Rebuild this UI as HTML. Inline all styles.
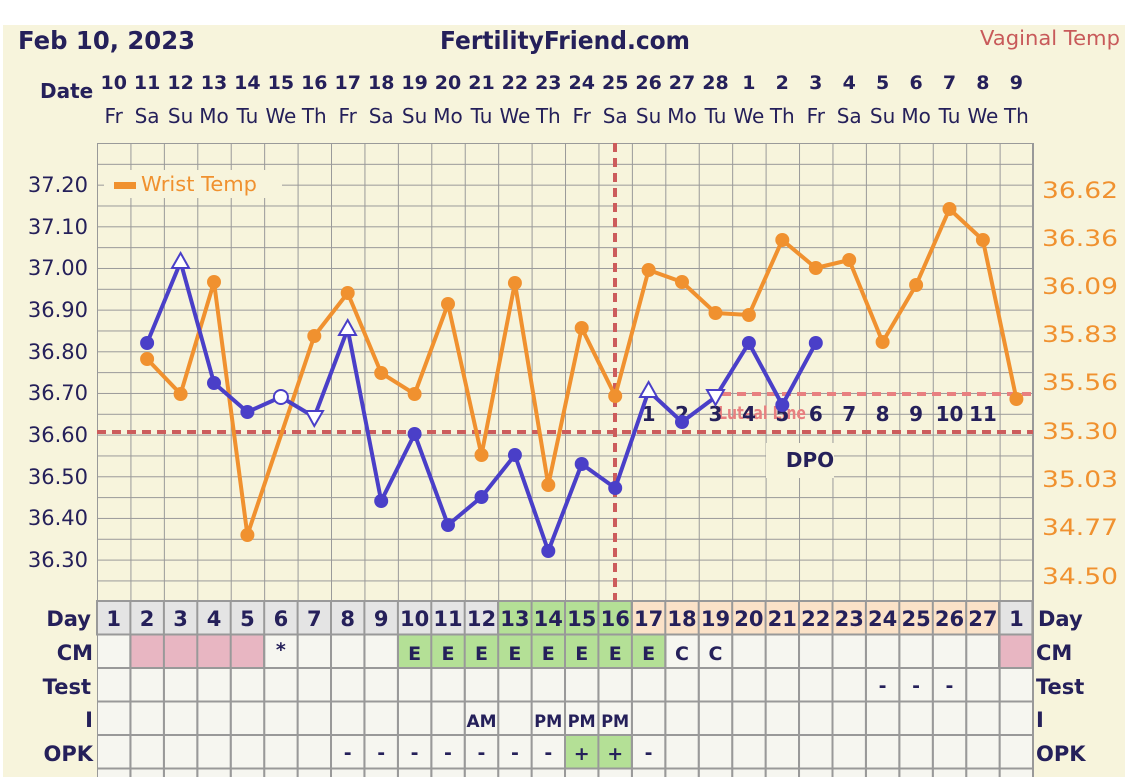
<!DOCTYPE html>
<html><head><meta charset="utf-8"><style>
html,body{margin:0;padding:0;background:#fff;}
svg{display:block;font-family:"DejaVu Sans","Liberation Sans",sans-serif;}
</style></head><body>
<svg width="1125" height="777" viewBox="0 0 1125 777" xmlns="http://www.w3.org/2000/svg">
<defs>
<pattern id="g" x="97" y="143" width="33.43" height="20.83" patternUnits="userSpaceOnUse">
<path d="M0 0V20.83M0 0H33.43" stroke="#999" stroke-width="2" fill="none"/>
</pattern>
<pattern id="t" x="97" y="601" width="33.43" height="33.5" patternUnits="userSpaceOnUse">
<rect width="33.43" height="33.5" fill="#f6f6f0"/>
<path d="M0 0V33.5M0 0H33.43" stroke="#999" stroke-width="2" fill="none"/>
</pattern>
</defs>
<rect x="3" y="25" width="1122" height="752" fill="#f7f4dc"/>
<text x="18" y="49" font-size="25" font-weight="bold" fill="#25205a" textLength="177" lengthAdjust="spacingAndGlyphs">Feb 10, 2023</text>
<text x="440" y="49" font-size="25" font-weight="bold" fill="#25205a" textLength="250" lengthAdjust="spacingAndGlyphs">FertilityFriend.com</text>
<text x="980" y="45" font-size="20" fill="#c85a5a" textLength="140" lengthAdjust="spacingAndGlyphs">Vaginal Temp</text>
<text x="40" y="98" font-size="20" font-weight="bold" fill="#25205a">Date</text>
<g font-size="19" font-weight="bold" fill="#25205a" text-anchor="middle">
<text x="113.7" y="89">10</text><text x="147.1" y="89">11</text><text x="180.6" y="89">12</text><text x="214" y="89">13</text><text x="247.4" y="89">14</text><text x="280.9" y="89">15</text><text x="314.3" y="89">16</text><text x="347.7" y="89">17</text><text x="381.2" y="89">18</text><text x="414.6" y="89">19</text><text x="448" y="89">20</text><text x="481.5" y="89">21</text><text x="514.9" y="89">22</text><text x="548.3" y="89">23</text><text x="581.7" y="89">24</text><text x="615.2" y="89">25</text><text x="648.6" y="89">26</text><text x="682" y="89">27</text><text x="715.5" y="89">28</text><text x="748.9" y="89">1</text><text x="782.3" y="89">2</text><text x="815.8" y="89">3</text><text x="849.2" y="89">4</text><text x="882.6" y="89">5</text><text x="916.1" y="89">6</text><text x="949.5" y="89">7</text><text x="982.9" y="89">8</text><text x="1016.4" y="89">9</text>
</g>
<g font-size="20" fill="#25205a" text-anchor="middle">
<text x="113.7" y="123">Fr</text><text x="147.1" y="123">Sa</text><text x="180.6" y="123">Su</text><text x="214" y="123">Mo</text><text x="247.4" y="123">Tu</text><text x="280.9" y="123">We</text><text x="314.3" y="123">Th</text><text x="347.7" y="123">Fr</text><text x="381.2" y="123">Sa</text><text x="414.6" y="123">Su</text><text x="448" y="123">Mo</text><text x="481.5" y="123">Tu</text><text x="514.9" y="123">We</text><text x="548.3" y="123">Th</text><text x="581.7" y="123">Fr</text><text x="615.2" y="123">Sa</text><text x="648.6" y="123">Su</text><text x="682" y="123">Mo</text><text x="715.5" y="123">Tu</text><text x="748.9" y="123">We</text><text x="782.3" y="123">Th</text><text x="815.8" y="123">Fr</text><text x="849.2" y="123">Sa</text><text x="882.6" y="123">Su</text><text x="916.1" y="123">Mo</text><text x="949.5" y="123">Tu</text><text x="982.9" y="123">We</text><text x="1016.4" y="123">Th</text>
</g>
<rect x="97" y="143" width="936" height="458" fill="url(#g)"/>
<line x1="1033" y1="143" x2="1033" y2="601" stroke="#999" stroke-width="2"/>
<g font-size="21" fill="#25205a" text-anchor="end">
<text x="88" y="192">37.20</text><text x="88" y="234">37.10</text><text x="88" y="275">37.00</text><text x="88" y="317">36.90</text><text x="88" y="359">36.80</text><text x="88" y="400">36.70</text><text x="88" y="442">36.60</text><text x="88" y="484">36.50</text><text x="88" y="525">36.40</text><text x="88" y="567">36.30</text>
</g>
<g font-size="22" fill="#f0912f">
<text x="1042" y="198" textLength="76" lengthAdjust="spacingAndGlyphs">36.62</text><text x="1042" y="246" textLength="76" lengthAdjust="spacingAndGlyphs">36.36</text><text x="1042" y="294" textLength="76" lengthAdjust="spacingAndGlyphs">36.09</text><text x="1042" y="342" textLength="76" lengthAdjust="spacingAndGlyphs">35.83</text><text x="1042" y="390" textLength="76" lengthAdjust="spacingAndGlyphs">35.56</text><text x="1042" y="439" textLength="76" lengthAdjust="spacingAndGlyphs">35.30</text><text x="1042" y="487" textLength="76" lengthAdjust="spacingAndGlyphs">35.03</text><text x="1042" y="535" textLength="76" lengthAdjust="spacingAndGlyphs">34.77</text><text x="1042" y="584" textLength="76" lengthAdjust="spacingAndGlyphs">34.50</text>
</g>
<rect x="104" y="170" width="178" height="28" fill="#f7f4dc"/>
<rect x="114" y="182" width="22" height="7" fill="#f0912f"/>
<text x="141" y="191" font-size="20" fill="#f0912f" textLength="116" lengthAdjust="spacingAndGlyphs">Wrist Temp</text>
<rect x="766" y="443" width="68" height="35" fill="#f7f4dc"/>
<text x="810" y="467" font-size="20" font-weight="bold" fill="#25205a" text-anchor="middle">DPO</text>
<line x1="97" y1="432" x2="1033" y2="432" stroke="#cc5c5c" stroke-width="4" stroke-dasharray="9,6"/>
<line x1="615" y1="143" x2="615" y2="601" stroke="#cc5c5c" stroke-width="4" stroke-dasharray="9,6"/>
<line x1="722" y1="394" x2="1033" y2="394" stroke="#e88080" stroke-width="4" stroke-dasharray="9,6"/>
<text x="718" y="419" font-size="18" font-weight="bold" fill="#e88080" textLength="88" lengthAdjust="spacingAndGlyphs">Luteal Line</text>
<g font-size="20" font-weight="bold" fill="#25205a" text-anchor="middle">
<text x="648.6" y="421">1</text><text x="682" y="421">2</text><text x="715.5" y="421">3</text><text x="748.9" y="421">4</text><text x="782.3" y="421">5</text><text x="815.8" y="421">6</text><text x="849.2" y="421">7</text><text x="882.6" y="421">8</text><text x="916.1" y="421">9</text><text x="949.5" y="421">10</text><text x="982.9" y="421">11</text>
</g>
<polyline fill="none" stroke="#f0912f" stroke-width="4" stroke-linejoin="round" points="147.1,359 180.6,394 214,282 247.4,535 314.3,336 347.7,293 381.2,373 414.6,394 448,304 481.5,455 514.9,283 548.3,485 581.7,328 615.2,396 648.6,270 682,282 715.5,313 748.9,315 782.3,240 815.8,268 849.2,260 882.6,342 916.1,285 949.5,209 982.9,240 1016.4,399"/>
<g fill="#f0912f">
<circle cx="147.1" cy="359" r="7"/><circle cx="180.6" cy="394" r="7"/><circle cx="214" cy="282" r="7"/><circle cx="247.4" cy="535" r="7"/><circle cx="314.3" cy="336" r="7"/><circle cx="347.7" cy="293" r="7"/><circle cx="381.2" cy="373" r="7"/><circle cx="414.6" cy="394" r="7"/><circle cx="448" cy="304" r="7"/><circle cx="481.5" cy="455" r="7"/><circle cx="514.9" cy="283" r="7"/><circle cx="548.3" cy="485" r="7"/><circle cx="581.7" cy="328" r="7"/><circle cx="615.2" cy="396" r="7"/><circle cx="648.6" cy="270" r="7"/><circle cx="682" cy="282" r="7"/><circle cx="715.5" cy="313" r="7"/><circle cx="748.9" cy="315" r="7"/><circle cx="782.3" cy="240" r="7"/><circle cx="815.8" cy="268" r="7"/><circle cx="849.2" cy="260" r="7"/><circle cx="882.6" cy="342" r="7"/><circle cx="916.1" cy="285" r="7"/><circle cx="949.5" cy="209" r="7"/><circle cx="982.9" cy="240" r="7"/><circle cx="1016.4" cy="399" r="7"/>
</g>
<polyline fill="none" stroke="#4a3fc8" stroke-width="4" stroke-linejoin="round" points="147.1,343 180.6,262 214,383 247.4,412 280.9,397 314.3,417 347.7,329 381.2,501 414.6,434 448,525 481.5,497 514.9,455 548.3,551 581.7,464 615.2,488 648.6,391 682,422 715.5,397 748.9,343 782.3,405 815.8,343"/>
<g fill="#4a3fc8">
<circle cx="147.1" cy="343" r="7"/><circle cx="214" cy="383" r="7"/><circle cx="247.4" cy="412" r="7"/><circle cx="381.2" cy="501" r="7"/><circle cx="414.6" cy="434" r="7"/><circle cx="448" cy="525" r="7"/><circle cx="481.5" cy="497" r="7"/><circle cx="514.9" cy="455" r="7"/><circle cx="548.3" cy="551" r="7"/><circle cx="581.7" cy="464" r="7"/><circle cx="615.2" cy="488" r="7"/><circle cx="682" cy="422" r="7"/><circle cx="748.9" cy="343" r="7"/><circle cx="782.3" cy="405" r="7"/><circle cx="815.8" cy="343" r="7"/>
</g>
<g fill="#fff" stroke="#4a3fc8" stroke-width="2">
<circle cx="280.9" cy="397" r="7"/>
<polygon points="180.6,253 172,268 189,268"/>
<polygon points="347.7,320 339,335 356,335"/>
<polygon points="648.6,382 640,397 657,397"/>
<polygon points="314.3,426 306,411 323,411"/>
<polygon points="715.5,405 707,390 724,390"/>
</g>
<rect x="97" y="601" width="936" height="176" fill="url(#t)"/>
<g stroke="#999" stroke-width="2">
<rect x="97" y="601" width="935.4" height="33.5" fill="#e4e4e4"/>
<rect x="498" y="601" width="133.7" height="33.5" fill="#b4e096"/>
<rect x="632" y="601" width="367" height="33.5" fill="#fbe2c8"/>
<rect x="130.4" y="634.5" width="133.7" height="33.5" fill="#e8b6c2"/>
<rect x="999" y="634.5" width="33.4" height="33.5" fill="#e8b6c2"/>
<rect x="398" y="634.5" width="267.4" height="33.5" fill="#b4e096"/>
<rect x="565" y="735" width="66.9" height="33.5" fill="#b4e096"/>
</g>
<g stroke="#999" stroke-width="2">
<path d="M130.4 601V777M163.9 601V777M197.3 601V777M230.7 601V777M264.2 601V777M297.6 601V777M331 601V777M364.4 601V777M397.9 601V777M431.3 601V777M464.7 601V777M498.2 601V777M531.6 601V777M565 601V777M598.4 601V777M631.9 601V777M665.3 601V777M698.7 601V777M732.2 601V777M765.6 601V777M799 601V777M832.5 601V777M865.9 601V777M899.3 601V777M932.8 601V777M966.2 601V777M999.6 601V777M1033 601V777"/>
<path d="M97 601H1033M97 634.5H1033M97 668H1033M97 701.5H1033M97 735H1033M97 768.5H1033"/>
</g>
<g font-size="21" font-weight="bold" fill="#25205a" text-anchor="middle">
<text x="113.7" y="626">1</text><text x="147.1" y="626">2</text><text x="180.6" y="626">3</text><text x="214" y="626">4</text><text x="247.4" y="626">5</text><text x="280.9" y="626">6</text><text x="314.3" y="626">7</text><text x="347.7" y="626">8</text><text x="381.2" y="626">9</text><text x="414.6" y="626">10</text><text x="448" y="626">11</text><text x="481.5" y="626">12</text><text x="514.9" y="626">13</text><text x="548.3" y="626">14</text><text x="581.7" y="626">15</text><text x="615.2" y="626">16</text><text x="648.6" y="626">17</text><text x="682" y="626">18</text><text x="715.5" y="626">19</text><text x="748.9" y="626">20</text><text x="782.3" y="626">21</text><text x="815.8" y="626">22</text><text x="849.2" y="626">23</text><text x="882.6" y="626">24</text><text x="916.1" y="626">25</text><text x="949.5" y="626">26</text><text x="982.9" y="626">27</text><text x="1016.4" y="626">1</text>
</g>
<g font-size="19" font-weight="bold" fill="#25205a" text-anchor="middle">
<text x="280.9" y="656">*</text>
<text x="414.6" y="660">E</text><text x="448" y="660">E</text><text x="481.5" y="660">E</text><text x="514.9" y="660">E</text><text x="548.3" y="660">E</text><text x="581.7" y="660">E</text><text x="615.2" y="660">E</text><text x="648.6" y="660">E</text><text x="682" y="660">C</text><text x="715.5" y="660">C</text>
<text x="882.6" y="692">-</text><text x="916.1" y="692">-</text><text x="949.5" y="692">-</text>
<text x="481.5" y="727" font-size="17" textLength="30" lengthAdjust="spacingAndGlyphs">AM</text><text x="548.3" y="727" font-size="17" textLength="28" lengthAdjust="spacingAndGlyphs">PM</text><text x="581.7" y="727" font-size="17" textLength="28" lengthAdjust="spacingAndGlyphs">PM</text><text x="615.2" y="727" font-size="17" textLength="28" lengthAdjust="spacingAndGlyphs">PM</text>
<text x="347.7" y="759">-</text><text x="381.2" y="759">-</text><text x="414.6" y="759">-</text><text x="448" y="759">-</text><text x="481.5" y="759">-</text><text x="514.9" y="759">-</text><text x="548.3" y="759">-</text><text x="581.7" y="760">+</text><text x="615.2" y="760">+</text><text x="648.6" y="759">-</text>
</g>
<g font-size="21" font-weight="bold" fill="#25205a">
<text x="91" y="626" text-anchor="end">Day</text>
<text x="93" y="660" text-anchor="end">CM</text>
<text x="91" y="694" text-anchor="end">Test</text>
<text x="93" y="727" text-anchor="end">I</text>
<text x="93" y="761" text-anchor="end">OPK</text>
<text x="1038" y="626">Day</text>
<text x="1036" y="660">CM</text>
<text x="1036" y="694">Test</text>
<text x="1036" y="727">I</text>
<text x="1036" y="761">OPK</text>
</g>
</svg>
</body></html>
